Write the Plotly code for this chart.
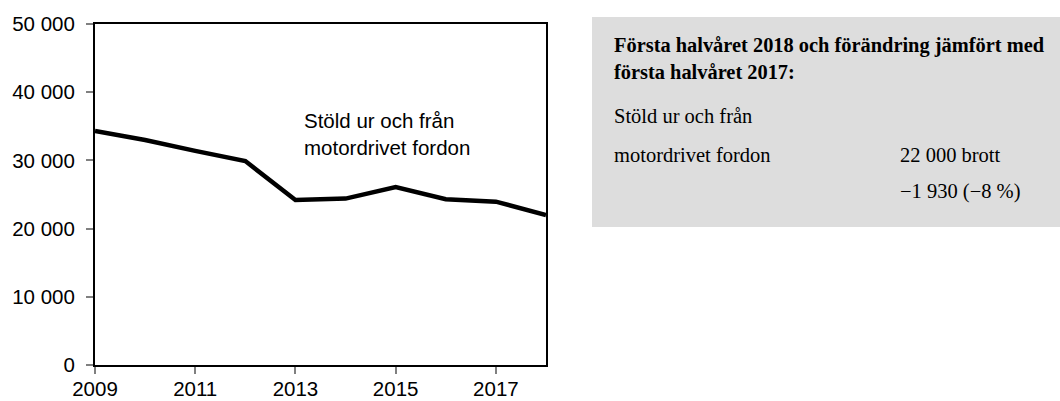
import plotly.graph_objects as go

years = [2009, 2010, 2011, 2012, 2013, 2014, 2015, 2016, 2017, 2018]
values = [34300, 33000, 31400, 29900, 24200, 24400, 26100, 24300, 23950, 22000]

y_tickvals = [0, 10000, 20000, 30000, 40000, 50000]
y_ticktext = ["0", "10 000", "20 000", "30 000", "40 000", "50 000"]
x_tickvals = [2009, 2011, 2013, 2015, 2017]
x_ticktext = ["2009", "2011", "2013", "2015", "2017"]

series_label = "Stöld ur och från<br>motordrivet fordon"
box_title = "<b>Första halvåret 2018 och förändring jämfört med<br>första halvåret 2017:</b>"
box_line1 = "Stöld ur och från"
box_line2 = "motordrivet fordon"
box_value = "22 000 brott"
box_change = "−1 930 (−8 %)"

W, H = 1060, 401
# plot area in page pixels
L, R, T, B = 95, 546, 24, 365


def px(x):
    return (x - L) / (R - L)


def py(y):
    return (B - y) / (B - T)


sans = "Liberation Sans, Arial, sans-serif"
serif = "Liberation Serif, Times New Roman, serif"

fig = go.Figure()
fig.add_trace(go.Scatter(x=years, y=values, mode="lines",
                         line=dict(color="black", width=4.5), showlegend=False,
                         hoverinfo="skip"))

fig.update_layout(
    width=W, height=H,
    margin=dict(l=L, r=W - R, t=T, b=H - B, pad=0, autoexpand=False),
    plot_bgcolor="white", paper_bgcolor="white",
    font=dict(family=sans, size=20.5, color="black"),
    showlegend=False,
)
axis_common = dict(showgrid=False, zeroline=False, showline=True, mirror=True,
                   linecolor="black", linewidth=2, ticks="outside", ticklen=7,
                   tickcolor="#808080", tickwidth=1.5, automargin=False,
                   tickfont=dict(size=20.5, family=sans, color="black"))
fig.update_xaxes(range=[2009, 2018], tickvals=x_tickvals, ticktext=x_ticktext,
                 ticklabelstandoff=-3, **axis_common)
fig.update_yaxes(range=[0, 50000], tickvals=y_tickvals, ticktext=y_ticktext,
                 ticklabelstandoff=7, **axis_common)

# label inside chart
fig.add_annotation(xref="paper", yref="paper", x=px(302), y=py(134),
                   text=series_label, showarrow=False, xanchor="left", yanchor="middle",
                   align="left", font=dict(size=20.5, family=sans, color="black"))

# grey info box
fig.add_shape(type="rect", xref="paper", yref="paper",
              x0=px(592), x1=px(1062), y0=py(227), y1=py(17),
              fillcolor="#dddddd", line=dict(width=0), layer="below")

fig.add_annotation(xref="paper", yref="paper", x=px(612), y=py(58),
                   text=box_title, showarrow=False, xanchor="left", yanchor="middle",
                   align="left", font=dict(size=20.4, family=serif, color="black"))
fig.add_annotation(xref="paper", yref="paper", x=px(612), y=py(116),
                   text=box_line1, showarrow=False, xanchor="left", yanchor="middle",
                   align="left", font=dict(size=20.5, family=serif, color="black"))
fig.add_annotation(xref="paper", yref="paper", x=px(612), y=py(155),
                   text=box_line2, showarrow=False, xanchor="left", yanchor="middle",
                   align="left", font=dict(size=20.5, family=serif, color="black"))
fig.add_annotation(xref="paper", yref="paper", x=px(898), y=py(155),
                   text=box_value, showarrow=False, xanchor="left", yanchor="middle",
                   align="left", font=dict(size=20.5, family=serif, color="black"))
fig.add_annotation(xref="paper", yref="paper", x=px(898), y=py(191),
                   text=box_change, showarrow=False, xanchor="left", yanchor="middle",
                   align="left", font=dict(size=20.5, family=serif, color="black"))

fig.write_html("out.html", config={"displayModeBar": False},
               post_script="document.body.style.margin='0';document.body.style.overflow='hidden';")
